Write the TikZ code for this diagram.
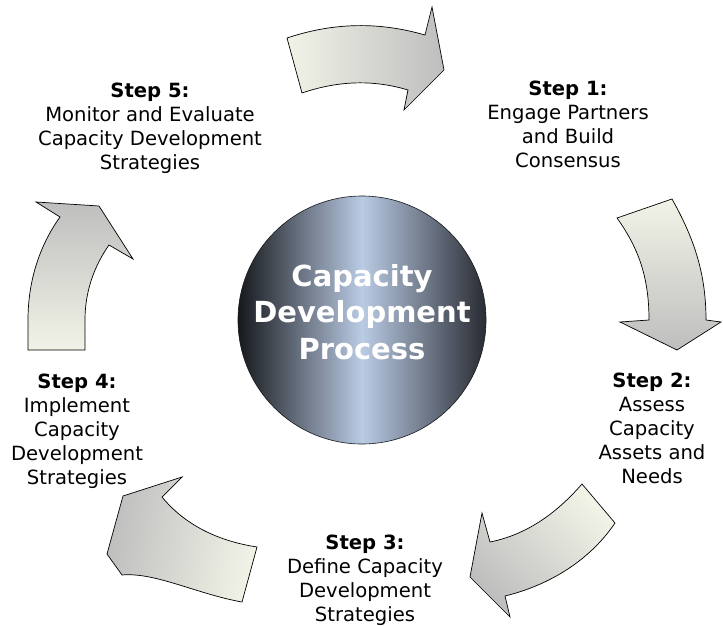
\documentclass[tikz,border=0pt]{standalone}
\usepackage{fontspec}
\setmainfont{DejaVu Sans}

\definecolor{arrowlight}{RGB}{242,243,231}
\definecolor{arrowdark}{RGB}{190,190,190}
\definecolor{hubedge}{RGB}{22,24,28}
\definecolor{hubmid}{RGB}{186,203,228}
\definecolor{hubright}{RGB}{40,43,50}

\begin{document}
\begin{tikzpicture}[x=1pt,y=-1pt,
  steptext/.style={align=center,anchor=base,inner sep=0pt,
    font=\fontsize{19.6}{24}\selectfont},
  hubtext/.style={align=center,anchor=base,inner sep=0pt,text=white,
    font=\fontsize{29}{36.5}\selectfont\bfseries},
  blockarrow/.style={draw=black,line width=0.7pt,line join=miter,
    top color=arrowlight,bottom color=arrowdark}]

\useasboundingbox[fill=white] (0,0) rectangle (723,626);

% Central disc
\node[circle,minimum size=248pt,inner sep=0pt,draw=hubedge,line width=0.6pt,
  left color=hubedge,right color=hubright,middle color=hubmid] (hub) at (362,320) {};
\node[hubtext] (hublabel) at (362,359) {Capacity\\Development\\Process};

% Curved arrows, tail light and head grey
% top, pointing right
\draw[blockarrow,shading angle=90] (287,38) .. controls (335,22) and (380,22) .. (425,35)
  -- (432,7) -- (444,70) -- (404,110) -- (408,90)
  .. controls (375,80) and (340,80) .. (302,93) -- cycle;

% right, pointing down
\draw[blockarrow] (617,218) -- (672,199) .. controls (695,240) and (706,275) .. (706,320)
  -- (721,322) -- (677,350) -- (620,322) -- (649,320)
  .. controls (649,280) and (640,250) .. (617,218) -- cycle;

% bottom right, pointing left
\draw[blockarrow,shading angle=-45] (582,484) -- (615,523)
  .. controls (590,560) and (550,585) .. (505,596)
  -- (510,617) -- (470,577) -- (482,513) -- (490,542)
  .. controls (525,535) and (555,515) .. (582,484) -- cycle;

% bottom left, pointing up
\draw[blockarrow,shading angle=-100] (257,547) -- (242,602)
  .. controls (197,594) and (155,572) .. (122,575)
  -- (107,554) -- (123,496) -- (182,477) -- (162,497)
  .. controls (185,525) and (218,541) .. (257,547) -- cycle;

% left, pointing up
\draw[blockarrow,shading angle=180] (28,350) -- (85,350) -- (85,320)
  .. controls (85,290) and (95,265) .. (109,245)
  -- (133,259) -- (99,206) -- (36,202) -- (60,217)
  .. controls (40,245) and (28,280) .. (28,320) -- cycle;

% Step labels (placed at the last baseline)
\node[steptext] (step1) at (568,167) {\textbf{Step 1:}\\Engage Partners\\and Build\\Consensus};
\node[steptext] (step2) at (652,483) {\textbf{Step 2:}\\Assess\\Capacity\\Assets and\\Needs};
\node[steptext] (step3) at (365,621) {\textbf{Step 3:}\\Define Capacity\\Development\\Strategies};
\node[steptext] (step4) at (77,484) {\textbf{Step 4:}\\Implement\\Capacity\\Development\\Strategies};
\node[steptext] (step5) at (150,169) {\textbf{Step 5:}\\Monitor and Evaluate\\Capacity Development\\Strategies};

\end{tikzpicture}
\end{document}
